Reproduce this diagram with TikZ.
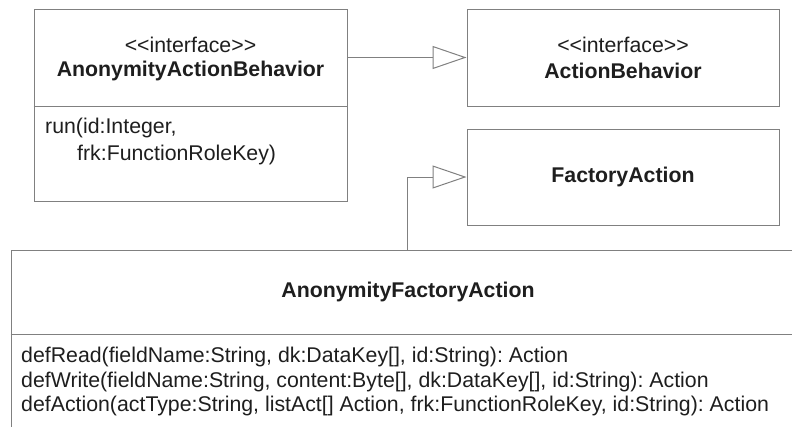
\documentclass[tikz,border=0pt]{standalone}
\usepackage{fontspec}
\setmainfont{Liberation Sans}
\usepackage{xcolor}
\usepackage{tikz}
\usetikzlibrary{positioning,arrows.meta}
\definecolor{umlline}{RGB}{128,128,128}
\definecolor{umltext}{RGB}{30,30,30}
\newcommand{\stereo}[1]{<\kern0pt<#1>\kern0pt>}
\frenchspacing
\tikzset{cls/.style={rectangle,draw=umlline,line width=1pt,inner sep=0pt},
  txt/.style={inner sep=0pt,text=umltext,font=\fontsize{21.3}{25}\selectfont},
  btxt/.style={txt,font=\fontsize{21.3}{25}\selectfont\bfseries},
  gen/.style={draw=umlline,line width=1pt,-{Triangle[open,length=34pt,width=23pt]}}}

\begin{document}
\begin{tikzpicture}[x=1pt,y=-1pt]
    \useasboundingbox (0,0) rectangle (792,426);
    \clip (0,0) rectangle (792,426);
    \node[cls,minimum width=313pt,minimum height=192pt] (aab) at (190.5,105) {};
    \node[cls,minimum width=312pt,minimum height=97pt] (ab) at (623,57.5) {};
    \node[cls,minimum width=312pt,minimum height=96pt] (fa) at (623,177) {};
    \node[cls,minimum width=830pt,minimum height=220pt] (afa) at (426,360) {};
    \draw[umlline,line width=1pt] (aab.west |- 0,106) -- (aab.east |- 0,106);
    \draw[umlline,line width=1pt] (afa.west |- 0,334) -- (afa.east |- 0,334);

    \node[txt] (aabst) at (190.5,45) {\stereo{interface}};
    \node[btxt] (aabnm) at (190.5,71) {AnonymityActionBehavior};
    \node[txt,anchor=west] (aabm1) at (45,128) {run(id:Integer,};
    \node[txt,anchor=west] (aabm2) at (77,155) {frk:FunctionRoleKey)};
    \node[txt] (abst) at (623,45) {\stereo{interface}};
    \node[btxt] (abnm) at (623,71) {ActionBehavior};
    \node[btxt] (fanm) at (623,177) {FactoryAction};
    \node[btxt] (afanm) at (408,292) {AnonymityFactoryAction};
    \node[txt,anchor=west] (afam1) at (21,357) {defRead(fieldName:String, dk:DataKey[], id:String): Action};
    \node[txt,anchor=west] (afam2) at (21,382) {defWrite(fieldName:String, content:Byte[], dk:DataKey[], id:String): Action};
    \node[txt,anchor=west] (afam3) at (21,406) {defAction(actType:String, listAct[] Action, frk:FunctionRoleKey, id:String): Action};

    \coordinate (jn) at (407,250);
    \draw[gen] (aab.east |- ab.west) -- (ab.west);
    \draw[gen] (jn) |- (fa.west);
\end{tikzpicture}
\end{document}
